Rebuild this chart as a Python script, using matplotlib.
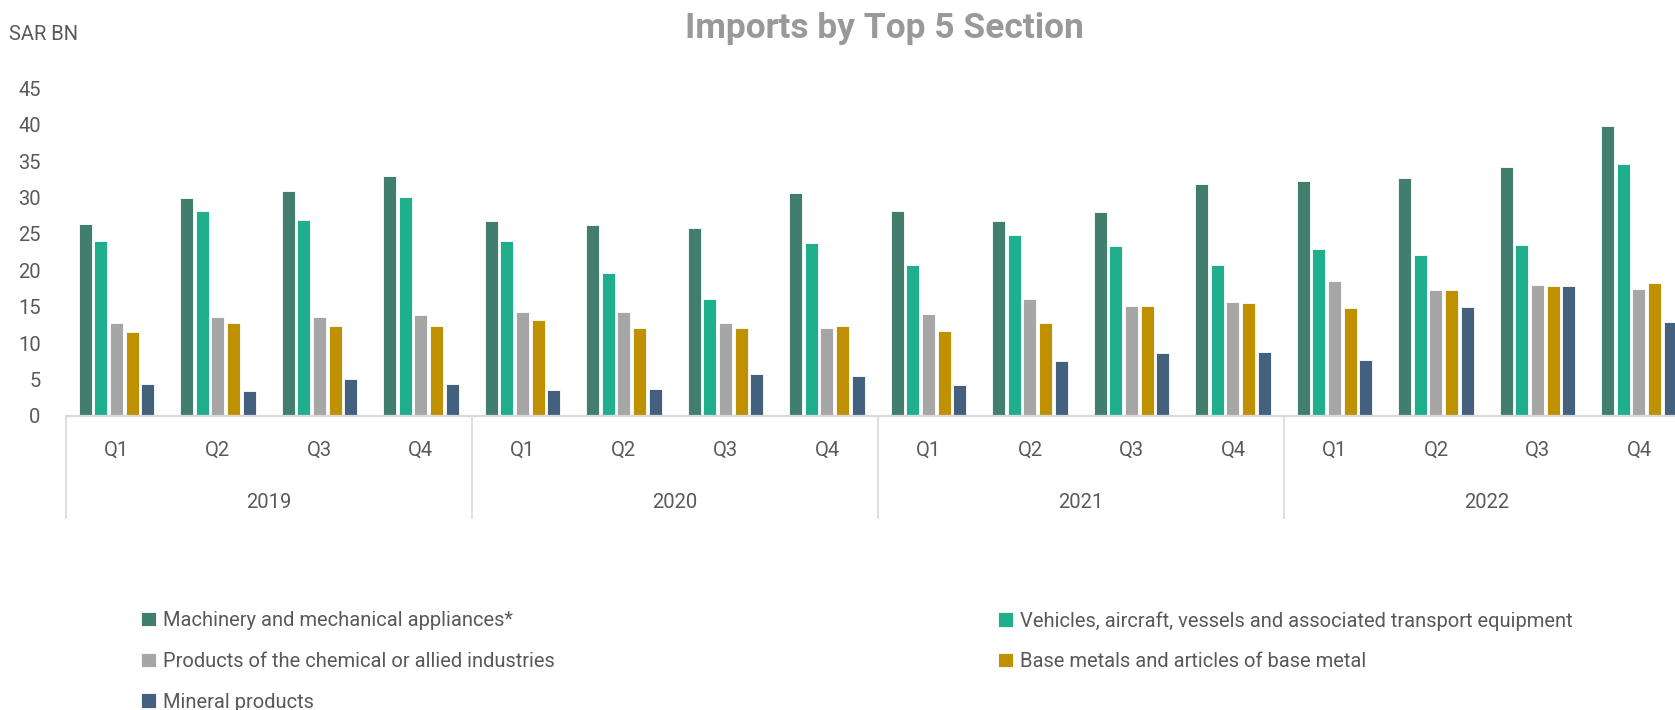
import matplotlib
matplotlib.use("Agg")
import matplotlib.pyplot as plt
import numpy as np

plt.rcParams['font.family'] = ['Roboto', 'DejaVu Sans']

# data (SAR BN)
years = ['2019', '2020', '2021', '2022']
quarters = ['Q1', 'Q2', 'Q3', 'Q4'] * 4

series_names = [
    'Machinery and mechanical appliances*',
    'Vehicles, aircraft, vessels and associated transport equipment',
    'Products of the chemical or allied industries',
    'Base metals and articles of base metal',
    'Mineral products',
]
series_colors = ['#417E6E', '#20AF8D', '#A6A6A6', '#BF9000', '#43607F']

machinery = [26.4, 30.0, 30.9, 33.0, 26.8, 26.3, 25.8, 30.7,
             28.2, 26.8, 28.0, 31.9, 32.3, 32.7, 34.2, 39.8]
vehicles = [24.1, 28.2, 26.9, 30.1, 24.1, 19.6, 16.0, 23.7,
            20.7, 24.9, 23.4, 20.7, 22.9, 22.1, 23.5, 34.6]
chemical = [12.8, 13.6, 13.6, 13.9, 14.3, 14.3, 12.8, 12.1,
            14.0, 16.0, 15.1, 15.6, 18.6, 17.3, 18.0, 17.5]
base_metals = [11.5, 12.7, 12.3, 12.3, 13.1, 12.1, 12.1, 12.3,
               11.7, 12.7, 15.1, 15.5, 14.8, 17.3, 17.8, 18.3]
mineral = [4.3, 3.4, 5.1, 4.3, 3.6, 3.7, 5.8, 5.5,
           4.2, 7.5, 8.6, 8.8, 7.7, 15.0, 17.8, 12.9]

series = [machinery, vehicles, chemical, base_metals, mineral]

text_col = '#595959'
line_col = '#D9D9D9'
fs = 14.5

fig = plt.figure(figsize=(16.75, 7.10), dpi=100)
ax = fig.add_axes([0.0392, 0.4145, 0.9696, 0.4607])

x = np.arange(len(quarters))
step = 0.1537
width = 0.128
handles = []
for k, (vals, col) in enumerate(zip(series, series_colors)):
    h = ax.bar(x + (k - 2) * step, vals, width=width, color=col,
               edgecolor='white', linewidth=0.6)
    handles.append(h)

ax.set_xlim(-0.5, 15.5)
ax.set_ylim(0, 45)
ax.set_yticks(np.arange(0, 46, 5))
ax.tick_params(axis='y', length=0, pad=18, labelsize=fs, labelcolor=text_col)

for s in ['top', 'right', 'left']:
    ax.spines[s].set_visible(False)
ax.spines['bottom'].set_color(line_col)
ax.spines['bottom'].set_linewidth(1.6)

# quarter labels + year separators
ax.set_xticks(x)
ax.set_xticklabels(quarters)
ax.tick_params(axis='x', which='major', length=0, pad=18, labelsize=fs,
               labelcolor=text_col)
ax.set_xticks(np.arange(-0.5, 16, 4), minor=True)
ax.tick_params(axis='x', which='minor', length=74, width=1.2, color=line_col)

# year labels on a second axis
sec = ax.secondary_xaxis('bottom')
sec.set_xticks(np.arange(1.5, 16, 4))
sec.set_xticklabels(years)
sec.tick_params(length=0, pad=56, labelsize=fs, labelcolor=text_col)
sec.spines['bottom'].set_visible(False)

fig.text(0.528, 0.9595, 'Imports by Top 5 Section', ha='center', va='center',
         fontsize=25.5, fontweight='bold', color='#999999')
fig.text(0.0056, 0.951, 'SAR BN', ha='left', va='center', fontsize=fs,
         color=text_col)

leg_kw = dict(frameon=False, fontsize=fs, labelcolor=text_col,
              handlelength=0.72, handleheight=0.72, handletextpad=0.35,
              labelspacing=1.08, borderpad=0, borderaxespad=0)
fig.legend([handles[0], handles[2], handles[4]],
           [series_names[0], series_names[2], series_names[4]],
           loc='upper left', bbox_to_anchor=(141 / 1675, 1 - 611 / 710), **leg_kw)
fig.legend([handles[1], handles[3]],
           [series_names[1], series_names[3]],
           loc='upper left', bbox_to_anchor=(998 / 1675, 1 - 611 / 710), **leg_kw)

fig.savefig('out.png', dpi=100)
